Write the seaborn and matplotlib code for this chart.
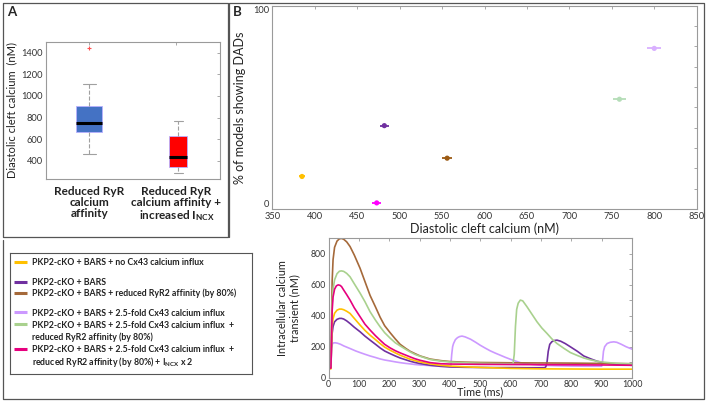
import numpy as np
import pandas as pd
import seaborn as sns
import matplotlib.pyplot as plt
from matplotlib.lines import Line2D

W, H = 708, 403

# ---- panel A: box summaries
box_labels = ['Reduced RyR\ncalcium\naffinity',
              'Reduced RyR\ncalcium affinity +\nincreased $\\mathbf{I_{NCX}}$']
box_med = [750, 430]
box_q1 = [668, 338]
box_q3 = [905, 628]
box_lo = [461, 283]
box_hi = [1108, 772]
box_fliers = [[1440], []]
box_colors = ['#4472C4', '#FF0000']

# ---- panel B top: % models with DADs vs diastolic cleft calcium
dad_group = ['no Cx43', 'BARS', 'RyR2', 'Cx43 x2.5', 'Cx43 x2.5 + RyR2', 'Cx43 x2.5 + RyR2 + NCX']
dad_cleft = [385, 482, 556, 759, 800, 473]
dad_err = [3, 5, 6, 8, 8, 5]
dad_pct = [16, 41, 25, 54, 79, 3]
dad_colors = ['#FFC000', '#7030A0', '#9C5B14', '#B5DDB8', '#D9B0FF', '#FF00FF']

# ---- panel B bottom: calcium transients (ms, nM)
t_yellow = [0, 8, 10, 12, 15, 20, 28, 36, 43, 50, 60, 71, 85, 104, 120, 137, 155, 170, 185, 203,
            220, 236, 255, 269, 285, 302, 335, 370, 400, 450, 500, 600, 700, 800, 900, 1000]
ca_yellow = [55, 57, 220, 330, 380, 415, 435, 442, 442, 438, 428, 414, 382, 339, 305, 274, 245, 220, 197, 177,
             160, 145, 130, 119, 110, 101, 89, 80, 75, 70, 66, 60, 57, 56, 55, 55]

t_purple = [0, 8, 10, 12, 15, 20, 28, 36, 43, 50, 60, 71, 85, 104, 120, 137, 155, 170, 185, 203,
            220, 236, 255, 269, 285, 302, 335, 370, 400, 450, 500, 550, 600, 650, 700, 712,
            716, 720, 724, 729, 736, 745, 753, 765, 780, 797, 820, 841, 863, 885, 907, 929, 960, 1000]
ca_purple = [70, 72, 200, 285, 330, 360, 376, 382, 382, 378, 366, 349, 325, 296, 268, 242, 215, 192, 172, 155,
             140, 127, 115, 106, 98, 91, 80, 73, 69, 67, 66, 65, 65, 64, 64, 64,
             70, 100, 170, 215, 232, 240, 242, 235, 220, 199, 170, 140, 122, 106, 96, 89, 84, 80]

t_brown = [0, 8, 10, 12, 15, 20, 28, 36, 43, 50, 60, 71, 85, 104, 120, 137, 155, 170, 185, 203,
           220, 236, 255, 269, 285, 302, 335, 370, 400, 450, 500, 600, 700, 800, 900, 1000]
ca_brown = [70, 72, 350, 620, 760, 840, 880, 895, 897, 892, 875, 845, 790, 705, 620, 530, 455, 390, 335, 290,
            250, 215, 188, 170, 155, 140, 120, 110, 104, 100, 98, 96, 95, 94, 92, 90]

t_lavender = [0, 8, 10, 13, 16, 22, 30, 40, 50, 71, 90, 104, 120, 137, 155, 170, 185, 203, 220, 236,
              255, 269, 285, 302, 335, 370, 400, 403,
              406, 409, 412, 418, 425, 432, 440, 450, 468, 485, 500, 517, 533, 550, 566, 583, 599, 615,
              632, 660, 700, 750, 800, 850, 900,
              903, 906, 910, 918, 928, 940, 950, 965, 980, 1000]
ca_lavender = [60, 62, 190, 218, 224, 225, 222, 215, 205, 188, 172, 162, 151, 140, 130, 121, 114, 108, 102, 97,
               92, 89, 85, 82, 78, 76, 75, 75,
               150, 200, 220, 245, 258, 265, 268, 263, 248, 228, 209, 190, 173, 158, 145, 131, 119, 108,
               97, 88, 80, 77, 75, 74, 74,
               110, 170, 200, 220, 228, 231, 228, 215, 200, 184]

t_green = [0, 8, 10, 12, 15, 20, 28, 36, 43, 50, 60, 71, 85, 104, 120, 137, 155, 170, 185, 203,
           220, 236, 255, 269, 285, 302, 335, 370, 400, 450, 500, 550, 600, 608,
           612, 616, 620, 625, 632, 640, 654, 670, 687, 703, 720, 736, 753, 775, 797, 820, 841, 863,
           885, 907, 929, 960, 1000]
ca_green = [70, 72, 300, 480, 570, 630, 670, 686, 688, 685, 672, 650, 605, 545, 490, 425, 370, 328, 290, 255,
            225, 205, 182, 166, 150, 138, 117, 107, 101, 96, 93, 91, 90, 90,
            150, 330, 440, 480, 500, 495, 457, 410, 360, 320, 285, 250, 220, 190, 162, 143, 127, 115,
            106, 100, 96, 92, 89]

t_magenta = [0, 8, 10, 12, 15, 20, 26, 32, 38, 43, 50, 60, 71, 85, 104, 120, 137, 155, 170, 185,
             203, 220, 236, 255, 269, 285, 302, 335, 370, 400, 500, 600, 700, 800, 900, 1000]
ca_magenta = [60, 62, 250, 430, 520, 570, 592, 598, 595, 587, 565, 535, 500, 450, 393, 345, 307, 270, 242, 215,
              192, 174, 160, 145, 134, 122, 112, 97, 90, 88, 86, 85, 84, 83, 82, 80]

legend_text = ['PKP2-cKO + BARS + no Cx43 calcium influx',
               'PKP2-cKO + BARS',
               'PKP2-cKO + BARS + reduced RyR2 affinity (by 80%)',
               'PKP2-cKO + BARS + 2.5-fold Cx43 calcium influx',
               'PKP2-cKO + BARS + 2.5-fold Cx43 calcium influx  +\nreduced RyR2 affinity (by 80%)',
               'PKP2-cKO + BARS + 2.5-fold Cx43 calcium influx  +\nreduced RyR2 affinity (by 80%) + $\\mathbf{I_{NCX}}$ x 2']
line_colors = ['#FFC000', '#7030A0', '#A5693A', '#CC99FF', '#A9D18E', '#E6007E']

sns.set_style('white')
plt.rcParams['font.family'] = ['Lato', 'DejaVu Sans']
plt.rcParams['mathtext.fontset'] = 'custom'
plt.rcParams['mathtext.rm'] = 'Lato'
plt.rcParams['mathtext.bf'] = 'Lato:bold'
plt.rcParams['mathtext.it'] = 'Lato:italic'

SP = '#9a9a9a'
TX = '#333333'


def rect(x0, y0, x1, y1):
    # pixel box (top-left origin) -> figure fraction
    return [x0 / W, 1 - y1 / H, (x1 - x0) / W, (y1 - y0) / H]


def style(ax, fs):
    for s in ax.spines.values():
        s.set_color(SP)
        s.set_linewidth(0.8)
    ax.tick_params(which='both', direction='in', top=True, right=True, length=2.5,
                   color=SP, labelsize=fs, labelcolor=TX, pad=2, width=0.6)


fig = plt.figure(figsize=(W / 100, H / 100), dpi=100)

# frames
def fline(xs, ys):
    fig.add_artist(Line2D([x / W for x in xs], [1 - y / H for y in ys], color='#555555', lw=0.9,
                          transform=fig.transFigure))

fline([3, 228, 228, 3, 3], [3, 3, 237, 237, 3])
fline([3, 3, 704, 704, 229, 229], [240, 399, 399, 3, 3, 237])
fig.text(7 / W, 1 - 12 / H, 'A', fontsize=9.5, fontweight='bold', va='center')
fig.text(233 / W, 1 - 12 / H, 'B', fontsize=9.5, fontweight='bold', va='center')

# ---- A
axA = fig.add_axes(rect(45.7, 42, 220, 179))
stats = []
for i in range(2):
    stats.append(dict(med=box_med[i], q1=box_q1[i], q3=box_q3[i], whislo=box_lo[i],
                      whishi=box_hi[i], fliers=box_fliers[i]))
bp = axA.bxp(stats, positions=[1, 2.02], widths=[0.3, 0.2], patch_artist=True,
             medianprops=dict(color='black', lw=2.2),
             whiskerprops=dict(color='#a0a0a0', ls='--', lw=0.8),
             capprops=dict(color='#a0a0a0', lw=0.8),
             flierprops=dict(marker='+', markeredgecolor='#ff5050', markersize=3, markeredgewidth=0.8))
for p, c in zip(bp['boxes'], box_colors):
    p.set_facecolor(c)
    p.set_edgecolor('#b8b0ff')
    p.set_linewidth(0.6)
axA.set_xlim(0.5, 2.5)
axA.set_ylim(230, 1500)
axA.set_xticks([1, 2])
axA.set_yticks([400, 600, 800, 1000, 1200, 1400])
style(axA, 6.7)
axA.set_xticklabels(box_labels, fontweight='bold', color='#222222')
axA.tick_params(axis='x', pad=5, labelsize=8.5, labelcolor='#222222')
for t in axA.get_xticklabels():
    t.set_linespacing(1.0)
axA.set_ylabel('Diastolic cleft calcium  (nM)', fontsize=8, color='#222222', labelpad=3)

# ---- B top
axB = fig.add_axes(rect(272.3, 5.7, 696.7, 209))
dfB = pd.DataFrame({'group': dad_group, 'cleft': dad_cleft, 'pct': dad_pct, 'err': dad_err})
for i in range(len(dad_group)):
    axB.errorbar(dad_cleft[i], dad_pct[i], xerr=dad_err[i], fmt='none', ecolor=dad_colors[i],
                 elinewidth=1.3, capsize=0)
sns.scatterplot(data=dfB, x='cleft', y='pct', hue='group', palette=dad_colors, s=14,
                edgecolor='none', legend=False, ax=axB, zorder=3)
axB.set_xlim(350, 850)
axB.set_ylim(0, 100)
axB.set_xticks(range(350, 851, 50))
axB.set_yticks(range(0, 101, 10))
axB.set_yticklabels(['0'] + [''] * 9 + ['100'])
style(axB, 6.7)
lbls = axB.get_yticklabels()
lbls[0].set_va('bottom')
lbls[-1].set_va('top')
axB.set_xlabel('Diastolic cleft calcium (nM)', fontsize=9, color='#222222', labelpad=1)
axB.set_ylabel('% of models showing DADs', fontsize=9, color='#222222', labelpad=5)

# ---- B bottom
series = [(t_yellow, ca_yellow), (t_purple, ca_purple), (t_brown, ca_brown),
          (t_lavender, ca_lavender), (t_green, ca_green), (t_magenta, ca_magenta)]
draw_order = [3, 1, 0, 2, 4, 5]
rows = []
for k in draw_order:
    tt, vv = series[k]
    rows.append(pd.DataFrame({'time': tt, 'ca': vv, 'cond': legend_text[k]}))
dfC = pd.concat(rows, ignore_index=True)
axC = fig.add_axes(rect(328.5, 238, 632, 377.7))
sns.lineplot(data=dfC, x='time', y='ca', hue='cond', hue_order=[legend_text[k] for k in draw_order],
             palette=[line_colors[k] for k in draw_order], estimator=None, sort=False,
             lw=1.2, legend=False, ax=axC)
axC.set_xlim(0, 1000)
axC.set_ylim(0, 900)
axC.set_xticks(range(0, 1001, 100))
axC.set_yticks(range(0, 801, 200))
axC.set_yticks(range(0, 901, 100), minor=True)
style(axC, 6.3)
axC.set_xlabel('Time (ms)', fontsize=7.8, color='#222222', labelpad=-2)
axC.set_ylabel('Intracellular calcium\ntransient (nM)', fontsize=7.8, color='#222222', labelpad=7)

# ---- legend box, one text per line so spacing matches
axL = fig.add_axes(rect(10, 253, 252, 374))
axL.set_xlim(0, 242)
axL.set_ylim(121, 0)
axL.set_xticks([])
axL.set_yticks([])
for s in axL.spines.values():
    s.set_color('#555555')
    s.set_linewidth(0.8)
entry_y = [262, 281.5, 293.3, 312.3, 324.3, 349.3]
for k in range(6):
    y = entry_y[k] - 253
    axL.plot([4, 17], [y, y], color=line_colors[k], lw=2.2, solid_capstyle='butt')
    for j, part in enumerate(legend_text[k].split('\n')):
        axL.text(22, y + 3.2 + j * 12.4, part, fontsize=6.3, fontweight='bold',
                 color='#222222', va='baseline')

fig.savefig('out.png', dpi=100)
